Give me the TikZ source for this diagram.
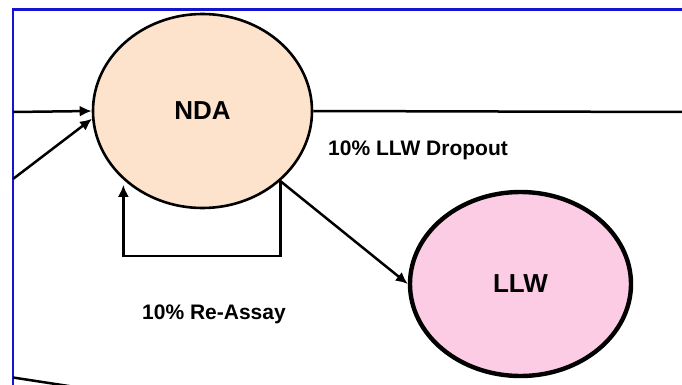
\documentclass[tikz,border=0pt]{standalone}
\usepackage{fontspec}
\setmainfont{Liberation Sans}
\usetikzlibrary{shapes.geometric,arrows.meta}
\definecolor{ndafill}{RGB}{253,227,203}
\definecolor{llwfill}{RGB}{252,204,229}
\definecolor{framecol}{RGB}{20,20,210}
\tikzset{
  ndastyle/.style={ellipse,draw=black,line width=2.6pt,fill=ndafill,inner sep=0pt,
    minimum width=219pt,minimum height=194pt,font=\bfseries\fontsize{26}{26}\selectfont},
  llwstyle/.style={ellipse,draw=black,line width=4.4pt,fill=llwfill,inner sep=0pt,
    minimum width=221pt,minimum height=184pt,font=\bfseries\fontsize{26}{26}\selectfont},
  conn/.style={draw=black,line width=2.5pt},
  arr/.style={conn,-{Latex[length=12pt,width=11pt]}},
  lbl/.style={inner sep=0pt,anchor=base west,font=\bfseries\fontsize{21}{21}\selectfont},
  framel/.style={draw=framecol,line width=2.6pt}
}
\begin{document}
\begin{tikzpicture}[x=1pt,y=-1pt]
\useasboundingbox (0,0) rectangle (682,385);
% frame
\coordinate (ftr) at (682,9.5);
\coordinate (ftl) at (13,9.5);
\coordinate (fbl) at (13,386);
\draw[framel] (ftr) -- (ftl) -- (fbl);
% nodes
\node[ndastyle] (nda) at (202.5,111) {NDA};
\node[llwstyle] (llw) at (520.5,284) {LLW};
% connectors
\coordinate (inA) at (13,112);
\coordinate (inB) at (13,179);
\coordinate (outR) at (683,112);
\coordinate (blA) at (13,377.5);
\coordinate (blB) at (75,387);
\coordinate (loopc) at (200,256);
\draw[arr] (inA) -- (nda.west);
\draw[arr] (inB) -- (nda.184);
\draw[conn] (nda.east) -- (outR);
\draw[conn] (blA) -- (blB);
\draw[arr,shorten >=5pt] (nda.-42) |- (loopc) -| (nda.-139.5);
\draw[arr] (nda.-42) -- (llw.west);
% labels
\node[lbl] (drop) at (328,155.5) {10\% LLW Dropout};
\node[lbl] (reas) at (142,319.5) {10\% Re-Assay};
\end{tikzpicture}
\end{document}
